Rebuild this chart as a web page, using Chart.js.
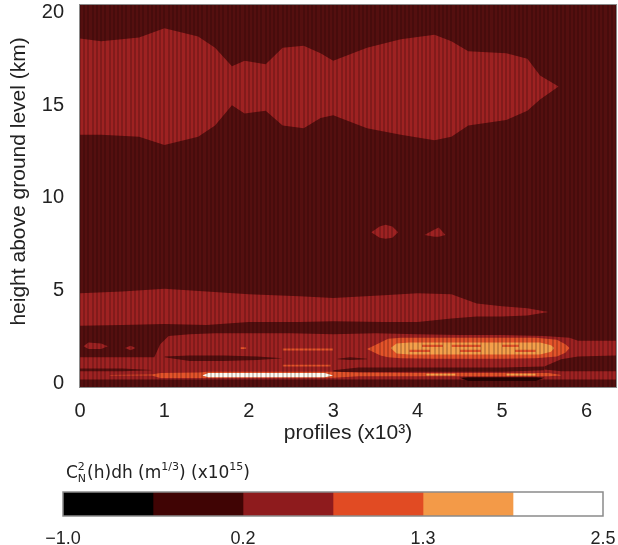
<!DOCTYPE html>
<html>
<head>
<meta charset="utf-8">
<script src="https://cdn.jsdelivr.net/npm/chart.js@4.4.1/dist/chart.umd.min.js"></script>
<style>
  html, body { margin: 0; padding: 0; background: #fff; }
  #wrap { position: relative; width: 618px; height: 545px; }
  #main { position: absolute; left: 0; top: 0; width: 618px; height: 450px; }
  #bar { position: absolute; left: 0; top: 450px; width: 618px; height: 95px; }
</style>
</head>
<body>
<div id="wrap">
  <canvas id="main" width="618" height="450"></canvas>
  <canvas id="bar" width="618" height="95"></canvas>
</div>
<script>
// axes
const xTicks = [0, 1, 2, 3, 4, 5, 6];
const yTicks = [0, 5, 10, 15, 20];

// colour bar levels
const levelWidths = [1, 1, 1, 1, 1, 1];
const levelColors = ['#000000', '#400404', '#8e1b1d', '#e14b23', '#f39a48', '#ffffff'];
const levelTickPos = [0, 2, 4, 6];
const levelLabels = ['\u22121.0', '0.2', '1.3', '2.5'];

// contour regions: x in profiles (x10^3), top / bottom edge in km
const upperX   = [0, 0.25, 0.7, 1.0, 1.4, 1.6, 1.8, 1.95, 2.2, 2.4, 2.65, 2.85, 3.0, 3.4, 3.8, 4.2, 4.4, 4.6, 5.05, 5.3, 5.45, 5.67];
const upperTop = [18.6, 18.45, 18.65, 19.15, 18.7, 18.1, 17.1, 17.4, 17.2, 18.1, 18.2, 17.8, 17.4, 18.1, 18.55, 18.8, 18.45, 17.9, 17.8, 17.5, 16.6, 16.0];
const upperBot = [13.4, 13.4, 13.3, 12.85, 13.3, 13.9, 15.0, 14.55, 14.7, 13.9, 13.76, 14.3, 14.45, 13.76, 13.4, 13.1, 13.3, 13.9, 14.2, 14.7, 15.3, 16.0];

const midX   = [0, 0.5, 1.0, 1.5, 2.0, 2.6, 3.0, 3.6, 4.0, 4.4, 4.7, 5.0, 5.3, 5.55];
const midTop = [4.85, 4.95, 5.1, 4.95, 4.8, 4.7, 4.6, 4.75, 4.85, 4.8, 4.3, 4.15, 4.05, 3.85];
const midBot = [3.1, 3.15, 3.2, 3.15, 3.3, 3.3, 3.35, 3.3, 3.3, 3.5, 3.6, 3.6, 3.65, 3.85];

const blobAX   = [3.45, 3.55, 3.62, 3.7, 3.77];
const blobATop = [8.15, 8.45, 8.55, 8.45, 8.15];
const blobABot = [8.15, 7.85, 7.8, 7.85, 8.15];
const blobBX   = [4.08, 4.2, 4.25, 4.33];
const blobBTop = [8.0, 8.3, 8.4, 8.0];
const blobBBot = [8.0, 7.9, 7.9, 8.0];

const lowX   = [0, 0.88, 0.95, 1.05, 1.3, 1.6, 2.0, 2.5, 3.0, 3.5, 4.0, 4.5, 5.0, 5.5, 5.8, 5.9, 6.37];
const lowTop = [1.4, 1.4, 2.1, 2.55, 2.65, 2.7, 2.7, 2.7, 2.65, 2.7, 2.65, 2.6, 2.6, 2.55, 2.45, 2.3, 2.3];
const lowBot = [0.2, 0.2, 0.2, 0.2, 0.2, 0.2, 0.2, 0.2, 0.2, 0.2, 0.2, 0.2, 0.2, 0.2, 0.2, 0.2, 0.2];

// gaps inside the low region
const gapAX = [1.0, 1.3, 1.7, 2.1, 2.4],  gapATop = [1.45, 1.5, 1.5, 1.45, 1.35], gapABot = [1.4, 1.2, 1.2, 1.25, 1.35];
const gapBX = [3.05, 3.2, 3.4],           gapBTop = [1.32, 1.4, 1.32],            gapBBot = [1.3, 1.25, 1.3];
const gapCX = [0, 0.5, 0.85],             gapCTop = [0.8, 0.8, 0.72],             gapCBot = [0.65, 0.65, 0.7];
const gapDX = [3.0, 3.3, 4.0, 5.0, 5.5],  gapDTop = [0.7, 0.85, 0.85, 0.85, 0.9], gapDBot = [0.62, 0.6, 0.62, 0.62, 0.7];
const gapEX = [5.5, 5.7, 5.9, 6.37],      gapETop = [0.9, 1.3, 1.45, 1.5],        gapEBot = [0.75, 0.65, 0.65, 0.65];

// small patches near 2 km on the left
const patchAX = [0.04, 0.1, 0.25, 0.33], patchATop = [2.0, 2.2, 2.15, 2.0], patchABot = [2.0, 1.85, 1.85, 2.0];
const patchBX = [0.53, 0.6, 0.66],       patchBTop = [1.9, 2.02, 1.9],      patchBBot = [1.9, 1.78, 1.9];

// strong layer around 2 km
const coreX   = [3.4, 3.56, 3.65, 3.8, 4.2, 4.6, 5.0, 5.4, 5.65, 5.75, 5.8];
const coreTop = [1.85, 2.2, 2.4, 2.45, 2.45, 2.45, 2.45, 2.45, 2.35, 2.1, 1.9];
const coreBot = [1.85, 1.5, 1.4, 1.35, 1.33, 1.33, 1.33, 1.35, 1.45, 1.65, 1.9];
const innerX   = [3.68, 3.75, 3.9, 4.3, 4.7, 5.1, 5.45, 5.58, 5.62];
const innerTop = [1.9, 2.15, 2.2, 2.2, 2.2, 2.2, 2.2, 2.05, 1.9];
const innerBot = [1.9, 1.6, 1.55, 1.55, 1.55, 1.55, 1.55, 1.7, 1.9];
const coreDashX0 = [4.05, 4.4, 5.0, 3.9, 4.5, 5.15];
const coreDashX1 = [4.3, 4.75, 5.2, 4.15, 4.75, 5.4];
const coreDashY  = [2.02, 2.02, 2.02, 1.75, 1.75, 1.75];

// thin orange streaks
const streakX0 = [2.4, 1.9, 2.4];
const streakX1 = [3.0, 1.97, 2.97];
const streakY  = [1.82, 1.9, 0.95];

// ground layer
const groundX   = [0.35, 0.85, 0.95, 1.42, 1.5, 3.0, 3.3, 4.0, 5.0, 5.55, 5.7];
const groundTop = [0.45, 0.48, 0.55, 0.58, 0.62, 0.62, 0.58, 0.55, 0.55, 0.55, 0.45];
const groundBot = [0.42, 0.42, 0.28, 0.28, 0.28, 0.3, 0.38, 0.38, 0.38, 0.38, 0.42];
const whiteX   = [1.45, 1.52, 2.9, 3.0];
const whiteTop = [0.42, 0.56, 0.56, 0.42];
const whiteBot = [0.42, 0.32, 0.32, 0.42];
const paleX0 = [4.1, 5.05], paleX1 = [4.45, 5.4], paleY = [0.47, 0.47];
const blackX   = [4.5, 4.6, 5.4, 5.5];
const blackTop = [0.3, 0.33, 0.33, 0.3];
const blackBot = [0.3, 0.12, 0.12, 0.3];

const BG = '#540f0f', RED = '#9e2222', ORANGE = '#e4532a', LIGHT = '#f5a04b', WHITE = '#fffaf0', BLACK = '#260303';
const FONT = '"Liberation Sans", Arial, sans-serif';

const datasets = [];
let layer = 0;
function region(xs, top, bot, color) {
  const idx = datasets.length;
  const common = { xAxisID: 'x', yAxisID: 'y', pointRadius: 0, borderWidth: 0, order: -layer };
  datasets.push({ ...common, data: xs.map((x, k) => ({ x: x, y: top[k] })), fill: idx + 1, backgroundColor: color });
  datasets.push({ ...common, data: xs.map((x, k) => ({ x: x, y: bot[k] })), fill: false });
  layer++;
}
function streaks(x0s, x1s, ys, half, color) {
  x0s.forEach((x0, i) => region([x0, x1s[i]], [ys[i] + half, ys[i] + half], [ys[i] - half, ys[i] - half], color));
}

region(upperX, upperTop, upperBot, RED);
region(midX, midTop, midBot, RED);
region(blobAX, blobATop, blobABot, RED);
region(blobBX, blobBTop, blobBBot, RED);
region(lowX, lowTop, lowBot, RED);
region(gapAX, gapATop, gapABot, BG);
region(gapBX, gapBTop, gapBBot, BG);
region(gapCX, gapCTop, gapCBot, BG);
region(gapDX, gapDTop, gapDBot, BG);
region(gapEX, gapETop, gapEBot, BG);
region(patchAX, patchATop, patchABot, RED);
region(patchBX, patchBTop, patchBBot, RED);
region(coreX, coreTop, coreBot, ORANGE);
region(innerX, innerTop, innerBot, LIGHT);
streaks(coreDashX0, coreDashX1, coreDashY, 0.06, ORANGE);
streaks(streakX0, streakX1, streakY, 0.05, ORANGE);
region(groundX, groundTop, groundBot, ORANGE);
region(whiteX, whiteTop, whiteBot, WHITE);
streaks(paleX0, paleX1, paleY, 0.05, LIGHT);
region(blackX, blackTop, blackBot, BLACK);

const plotFrame = {
  id: 'plotFrame',
  beforeDraw(chart) {
    const a = chart.chartArea, ctx = chart.ctx;
    ctx.save();
    ctx.fillStyle = BG;
    ctx.fillRect(a.left, a.top, a.right - a.left, a.bottom - a.top);
    ctx.restore();
  },
  afterDraw(chart) {
    const a = chart.chartArea, ctx = chart.ctx;
    ctx.save();
    ctx.strokeStyle = '#8a8a8a';
    ctx.lineWidth = 1;
    ctx.strokeRect(a.left - 0.5, a.top - 0.5, a.right - a.left + 1, a.bottom - a.top + 1);
    ctx.restore();
  }
};

new Chart(document.getElementById('main'), {
  type: 'line',
  data: { datasets: datasets },
  options: {
    responsive: false,
    animation: false,
    events: [],
    layout: { padding: { left: 0, right: 2, top: 5, bottom: 0 } },
    plugins: { legend: { display: false }, tooltip: { enabled: false } },
    scales: {
      x: {
        type: 'linear', position: 'bottom', min: 0, max: 6.35,
        afterBuildTicks: s => { s.ticks = xTicks.map(v => ({ value: v })); },
        afterFit: s => { s.height = 63; s.paddingLeft = 0; s.paddingRight = 0; },
        grid: { display: false },
        border: { display: false },
        ticks: { autoSkip: false, maxRotation: 0, padding: 4, color: '#222', font: { family: FONT, size: 20 } },
        title: { display: true, text: 'profiles (x10\u00b3)', color: '#222', padding: { top: 0, bottom: 4 }, font: { family: FONT, size: 21 } }
      },
      y: {
        type: 'linear', position: 'left', min: -0.2, max: 20.4,
        afterBuildTicks: s => { s.ticks = yTicks.map(v => ({ value: v })); },
        afterFit: s => { s.width = 80; s.paddingTop = 0; s.paddingBottom = 0; },
        grid: { display: false },
        border: { display: false },
        ticks: { autoSkip: false, padding: 8, color: '#222', font: { family: FONT, size: 20 } },
        title: { display: true, text: '     height above ground level (km)', color: '#222', padding: { top: 7, bottom: 0 }, font: { family: FONT, size: 21 } }
      },
      stripes: {
        type: 'linear', position: 'top', min: 0, max: 6.35,
        afterBuildTicks: s => {
          const t = [];
          for (let v = 0; v <= 6.35; v += 0.05) t.push({ value: v });
          s.ticks = t;
        },
        afterFit: s => { s.height = 0; s.paddingLeft = 0; s.paddingRight = 0; },
        ticks: { display: false },
        grid: { z: 1, color: 'rgba(20,0,0,0.2)', lineWidth: 2, drawTicks: false },
        border: { display: false }
      }
    }
  },
  plugins: [plotFrame]
});

// colour bar
const barDecor = {
  id: 'barDecor',
  afterDraw(chart) {
    const a = chart.chartArea, ctx = chart.ctx;
    ctx.save();
    ctx.strokeStyle = '#8a8a8a';
    ctx.lineWidth = 1.5;
    ctx.strokeRect(a.left, a.top, a.right - a.left, a.bottom - a.top);
    // title: C_N^2(h)dh (m^1/3) (x10^15)
    const big = '17px "DejaVu Sans", sans-serif', small = '11px "DejaVu Sans", sans-serif';
    const y = 28;
    let x = 66;
    ctx.fillStyle = '#222';
    ctx.textBaseline = 'alphabetic';
    ctx.textAlign = 'left';
    const put = (txt, font, dy) => { ctx.font = font; ctx.fillText(txt, x, y + dy); return ctx.measureText(txt).width; };
    x += put('C', big, 0);
    const wN = put('N', small, 4);
    const w2 = put('2', small, -8);
    x += Math.max(wN, w2) + 1;
    x += put('(h)dh (m', big, 0);
    x += put('1/3', small, -8);
    x += put(') (x10', big, 0);
    x += put('15', small, -8);
    put(')', big, 0);
    ctx.restore();
  }
};

new Chart(document.getElementById('bar'), {
  type: 'bar',
  data: {
    labels: ['level'],
    datasets: levelWidths.map((w, i) => ({
      data: [w], backgroundColor: levelColors[i], borderWidth: 0,
      barPercentage: 1, categoryPercentage: 1
    }))
  },
  options: {
    indexAxis: 'y',
    responsive: false,
    animation: false,
    events: [],
    layout: { padding: { left: 63, right: 15, top: 42, bottom: 0 } },
    plugins: { legend: { display: false }, tooltip: { enabled: false } },
    scales: {
      x: {
        type: 'linear', stacked: true, min: 0, max: 6,
        afterBuildTicks: s => { s.ticks = levelTickPos.map(v => ({ value: v })); },
        afterFit: s => { s.height = 29; s.paddingLeft = 0; s.paddingRight = 0; },
        grid: { display: false },
        border: { display: false },
        ticks: {
          autoSkip: false, maxRotation: 0, padding: 4, color: '#222',
          font: { family: FONT, size: 18 },
          callback: v => levelLabels[levelTickPos.indexOf(v)]
        }
      },
      y: { stacked: true, display: false }
    }
  },
  plugins: [barDecor]
});
</script>
</body>
</html>
